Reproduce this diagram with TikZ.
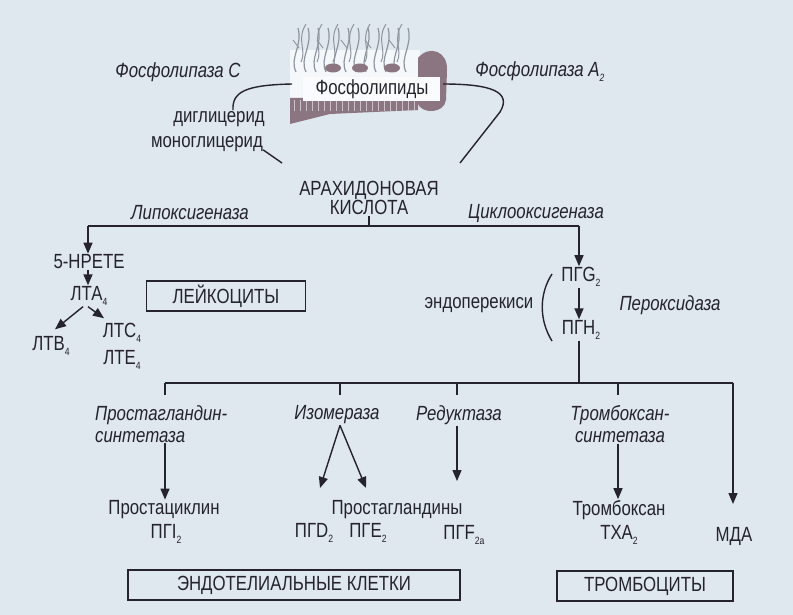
\documentclass[tikz,border=0pt]{standalone}
\usepackage{fontspec}
\setmainfont{Liberation Sans}[FakeStretch=0.82]
\usetikzlibrary{arrows.meta}
\definecolor{paper}{HTML}{DFE7EF}
\definecolor{ink}{HTML}{25232B}
\definecolor{lipid}{HTML}{8B7580}
\definecolor{tail}{HTML}{8E959E}
\newcommand\lo[1]{\raisebox{-0.45ex}{\fontsize{10.5}{10.5}\selectfont#1}}
\tikzset{
  lbl/.style={font=\fontsize{20.5}{22}\selectfont, text=ink, inner sep=1pt},
  enz/.style={lbl, font=\fontsize{20.5}{22}\selectfont\itshape},
  cellbox/.style={lbl, draw=ink, line width=1.4pt, minimum height=30pt},
  con/.style={ink, line width=1.4pt},
  arr/.style={con, -{Triangle[length=11pt,width=9pt]}},
}
\begin{document}
\begin{tikzpicture}[x=1pt,y=-1pt]
\fill[paper] (0,0) rectangle (793,615);
\useasboundingbox (0,0) rectangle (793,615);
% membrane
\fill[white!70!paper] (290,50) rectangle (420,98);
\foreach \x in {296,306,...,412}
  \draw[tail, line width=1.2pt] (\x,72) .. controls (\x-7,58) and (\x+7,46) .. (\x+2,28);
\foreach \x in {301,317,...,410}
  \draw[tail, line width=1pt] (\x,62) .. controls (\x+6,50) and (\x-5,40) .. (\x+5,24);
\foreach \x in {299,323,...,410}
  \draw[tail, line width=0.9pt] (\x,48) -- ++(-6,-8);
\foreach \x in {333,360,392}
  \fill[lipid] (\x,68) ellipse (8 and 4.5);
\fill[lipid] (290,98) -- (418,98) -- (418,110) -- (330,114) -- (290,124) -- cycle;
\foreach \x in {294,300,...,414}
  \draw[white!55!lipid, line width=0.8pt] (\x,100) -- (\x,111);
\fill[lipid] (418,58) .. controls (430,44) and (448,52) .. (447,70) -- (446,100)
  .. controls (444,114) and (422,114) .. (418,104) -- cycle;
\fill[white!85!paper] (303,77) rectangle (440,101);
% top
\node[lbl] (pl) at (372,89) {Фосфолипиды};
\node[enz] (plc) at (178,72) {Фосфолипаза C};
\node[enz] (pla) at (540,72) {Фосфолипаза A\lo{2}};
\node[lbl] (dg) at (219,119) {диглицерид};
\node[lbl] (mg) at (207,144) {моноглицерид};
\node[lbl, align=center, font=\fontsize{20.5}{19.5}\selectfont] (aa) at (369,198) {АРАХИДОНОВАЯ\\КИСЛОТА};
\coordinate (plL) at (292,84);
\coordinate (plR) at (443,84);
\coordinate (aaL) at (282,163);
\coordinate (aaR) at (460,163);
\draw[con] (plL) .. controls (245,85) and (232,92) .. ([xshift=14pt]dg.north);
\draw[con] ([xshift=-1pt,yshift=3pt]mg.south east) -- (aaL);
\draw[con] (plR) .. controls (492,84) and (512,92) .. (500,112) -- (aaR);
% split
\node[enz] (lox) at (190,213) {Липоксигеназа};
\node[enz] (cox) at (536,213) {Циклооксигеназа};
\coordinate (lx) at (88,226);
\coordinate (rx) at (579,226);
\draw[con] (lx) -- (rx);
\draw[con] (aa.south) -- (aa.south |- lx);
% lipoxygenase side
\node[lbl] (hpete) at (89,262) {5-HPETE};
\node[lbl] (lta) at (89,296) {ЛТА\lo4};
\node[lbl] (ltb) at (51,346) {ЛТВ\lo4};
\node[lbl] (ltc) at (122,333) {ЛТС\lo4};
\node[lbl] (lte) at (122,360) {ЛТЕ\lo4};
\node[cellbox, minimum width=159pt] (leuk) at (226,296) {ЛЕЙКОЦИТЫ};
\draw[arr] (lx) -- (lx |- hpete.north);
\draw[arr] (hpete.south -| lx) -- (lta.north -| lx);
\draw[arr] ([xshift=-6pt]lta.south) -- ([xshift=4pt,yshift=6pt]ltb.north);
\draw[arr] ([xshift=-1pt]lta.south) -- ([xshift=-18pt,yshift=4pt]ltc.north);
% cyclooxygenase side
\node[lbl] (pgg) at (581,277) {ПГG\lo2};
\node[lbl] (pgh) at (581,330) {ПГН\lo2};
\node[lbl] (endo) at (479,305) {эндоперекиси};
\node[enz] (perox) at (670,305) {Пероксидаза};
\draw[arr] (rx) -- (rx |- pgg.north);
\draw[arr] (pgg.south -| rx) -- (pgh.north -| rx);
\draw[con] (552,274) .. controls (539,294) and (539,320) .. (552,341);
% branches
\coordinate (hub) at (579,383);
\coordinate (b1) at (165,383);
\coordinate (b2) at (340,383);
\coordinate (b3) at (457,383);
\coordinate (b4) at (618,383);
\coordinate (b5) at (733,383);
\draw[con] (pgh.south -| rx) -- (hub);
\draw[con] (b1) -- (b5);
\foreach \b in {b1,b2,b3,b4}
  \draw[con] (\b) -- ++(0,12);
\node[enz, align=left, anchor=north west] (pgsyn) at (94,404) {Простагландин-\\синтетаза};
\node[enz] (iso) at (337,415) {Изомераза};
\node[enz] (red) at (459,415) {Редуктаза};
\node[enz, align=center, anchor=north] (txsyn) at (620,404) {Тромбоксан-\\синтетаза};
\node[lbl] (pgc) at (164,510) {Простациклин};
\node[lbl] (pgi) at (166,534) {ПГI\lo2};
\node[lbl] (pgs) at (397,510) {Простагландины};
\node[lbl] (pgd) at (314,533) {ПГD\lo2};
\node[lbl] (pge) at (368,533) {ПГЕ\lo2};
\node[lbl] (pgf) at (464,535) {ПГF\lo{2a}};
\node[lbl] (txa) at (619,510) {Тромбоксан};
\node[lbl] (txa2) at (619,535) {ТХА\lo2};
\node[lbl] (mda) at (734,536) {МДА};
\coordinate (dtip) at (320,488);
\coordinate (etip) at (366,488);
\coordinate (ftip) at (457,481);
\coordinate (mtip) at (733,504);
\draw[arr] (pgsyn.south -| b1) -- (pgc.north -| b1);
\draw[arr] ([xshift=3pt]iso.south) -- (dtip);
\draw[arr] ([xshift=3pt]iso.south) -- (etip);
\draw[arr] (red.south -| b3) -- (ftip);
\draw[arr] (txsyn.south -| b4) -- (txa.north -| b4);
\draw[arr] (b5) -- (mtip);
% cells
\node[cellbox, minimum width=332pt] (endc) at (294,585) {ЭНДОТЕЛИАЛЬНЫЕ КЛЕТКИ};
\node[cellbox, minimum width=176pt] (plt) at (645,586) {ТРОМБОЦИТЫ};
\end{tikzpicture}
\end{document}
